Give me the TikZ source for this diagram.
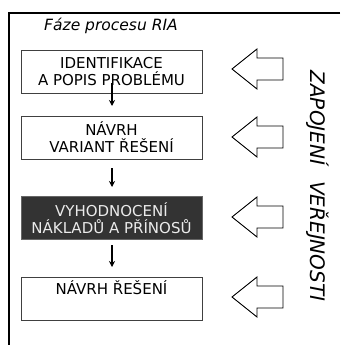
\documentclass[tikz,border=0pt]{standalone}
\usepackage{fontspec}
\setmainfont{DejaVu Sans}
\usetikzlibrary{arrows.meta}
\begin{document}
\begin{tikzpicture}[x=1pt,y=-1pt,
  phase/.style={draw=black!75, line width=0.9pt, fill=white, minimum width=181pt,
    minimum height=43pt, align=center, inner sep=0pt, font=\fontsize{15}{17}\selectfont},
  darkphase/.style={phase, fill=black!80, draw=black!60, text=black!8},
  flow/.style={-{Stealth[length=6pt,width=6pt]}, line width=1.2pt},
  hollow/.style={draw=black, line width=0.9pt, fill=white, line join=miter}]
\useasboundingbox (0,0) rectangle (340,345);
% open frame: top and left sides only
\draw[line width=1.8pt] (340,13) -- (9,13) -- (9,345);
\node[font=\itshape\fontsize{15.5}{18}\selectfont] (title) at (111,26) {Fáze procesu RIA};
% phases
\node[phase] (p1) at (111.5,72) {IDENTIFIKACE\\A POPIS PROBLÉMU};
\node[phase] (p2) at (111.5,137.5) {NÁVRH\\VARIANT ŘEŠENÍ};
\node[darkphase] (p3) at (111.5,218) {VYHODNOCENÍ\\NÁKLADŮ A PŘÍNOSŮ};
\node[phase] (p4) at (111.5,298.5) {NÁVRH ŘEŠENÍ\\\strut};
% flow between phases
\coordinate (a1s) at (112,83);  \coordinate (a1e) at (112,106);
\coordinate (a2s) at (112,168); \coordinate (a2e) at (112,187);
\coordinate (a3s) at (112,245); \coordinate (a3e) at (112,267);
\draw[flow] (a1s) -- (a1e);
\draw[flow] (a2s) -- (a2e);
\draw[flow] (a3s) -- (a3e);
% public participation arrows
\foreach \yy/\nm in {69/h1,137/h2,217/h3,297/h4}{
  \coordinate (\nm) at (232,\yy);
  \draw[hollow] (\nm) -- ++(25,-20) -- ++(0,9) -- ++(26,0) -- ++(0,22)
     -- ++(-26,0) -- ++(0,9) -- cycle;
}
\node[rotate=-90, font=\itshape\fontsize{20}{22}\selectfont, anchor=center]
  (pub) at (318,186) {ZAPOJENÍ\hspace{16pt}VEŘEJNOSTI};
\end{tikzpicture}
\end{document}
